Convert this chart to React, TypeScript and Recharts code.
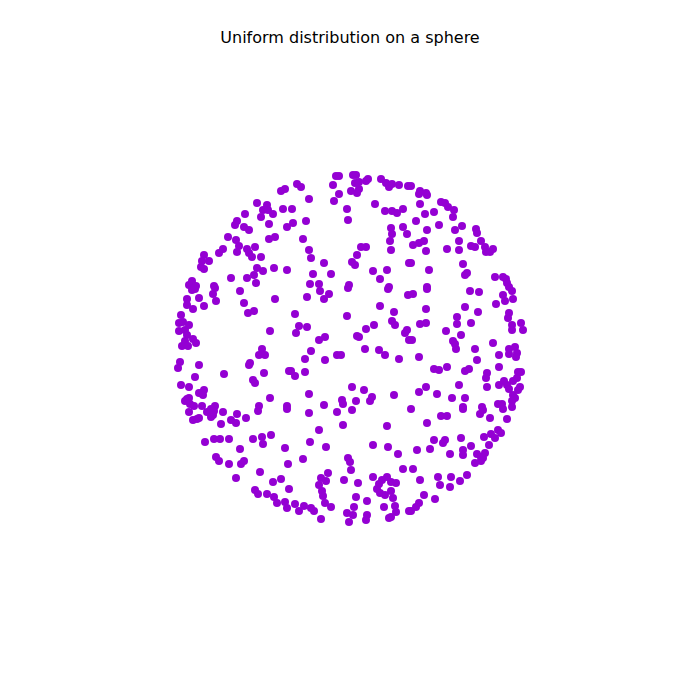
import React from "react";
import { ScatterChart, Scatter, XAxis, YAxis } from "recharts";

// point positions (projected sphere, pixel-like units)
const topLeft = [
  [281,191],[285,189],[257,203],[267,205],[263,210],[268,210],[273,214],[283,209],[245,214],[261,217],
  [237,221],[235,225],[269,224],[244,227],[249,230],[287,227],[228,237],[236,240],[269,239],[275,237],
  [239,246],[223,249],[219,253],[247,249],[255,247],[237,252],[249,253],[252,257],[261,257],[204,255],
  [209,261],[202,261],[201,267],[204,269],[257,268],[263,271],[274,268],[287,270],[254,275],[231,278],
  [247,278],[256,283],[192,281],[189,285],[196,286],[214,286],
];
const topMid = [
  [297,184],[301,187],[336,176],[339,176],[353,175],[356,175],[333,185],[355,183],[359,182],[368,179],
  [366,181],[381,179],[386,183],[389,187],[392,184],[399,185],[408,186],[351,191],[357,193],[359,189],
  [339,194],[309,199],[334,201],[375,204],[292,209],[347,209],[385,211],[392,211],[397,213],[403,209],
  [348,220],[306,221],[293,223],[391,228],[392,234],[403,227],[407,234],[390,241],[303,239],[361,247],
  [366,247],[391,250],[309,250],[357,255],[311,258],[352,262],[355,265],[324,263],[373,271],[387,270],
  [409,263],[313,274],[331,274],[380,279],[310,284],[319,284],[349,285],[389,287],
];
const topRight = [
  [411,186],[420,191],[419,194],[426,193],[427,195],[441,202],[445,203],[448,207],[454,210],[453,217],
  [420,204],[425,214],[434,212],[416,221],[439,225],[455,230],[462,226],[427,230],[476,229],[477,233],
  [481,241],[459,241],[424,241],[419,243],[413,245],[471,246],[475,247],[485,247],[486,252],[490,252],
  [493,249],[447,249],[459,250],[426,251],[463,264],[411,263],[429,270],[467,273],[465,275],[495,277],
  [503,277],[506,279],[507,283],[509,287],[427,287],
];
const midLeft = [
  [192,290],[195,289],[213,294],[215,288],[240,291],[187,299],[187,305],[199,298],[216,301],[244,303],
  [275,299],[193,309],[204,306],[248,313],[254,311],[181,315],[179,323],[183,322],[189,325],[179,331],
  [185,330],[187,335],[270,331],[193,339],[196,343],[185,341],[182,346],[188,346],[262,349],[259,355],
  [265,355],[180,362],[178,368],[199,365],[250,363],[249,365],[224,374],[264,373],[289,371],[195,377],
  [253,380],[255,383],[181,385],[189,387],[204,390],[199,393],[203,395],[270,398],[187,399],[189,398],
  [185,401],[190,404],[194,406],[202,406],[215,406],[259,406],[287,406],
];
const center = [
  [348,288],[307,297],[320,291],[329,294],[324,299],[388,289],[408,295],[295,314],[347,316],[380,306],
  [394,312],[392,321],[395,325],[299,326],[307,327],[296,333],[366,329],[374,325],[407,330],[405,333],
  [357,336],[359,337],[319,340],[325,337],[409,340],[365,349],[379,350],[385,355],[311,351],[337,355],
  [341,355],[305,359],[325,360],[399,359],[291,371],[295,376],[305,372],[352,387],[364,390],[309,394],
  [394,395],[342,400],[343,404],[356,401],[372,397],[370,401],[324,405],
];
const midRight = [
  [413,294],[427,289],[470,291],[479,292],[503,295],[505,301],[512,291],[513,299],[426,309],[465,307],
  [496,304],[478,312],[509,313],[508,318],[457,317],[457,324],[471,323],[420,324],[426,323],[512,325],
  [512,330],[521,323],[523,330],[446,331],[461,335],[453,341],[455,344],[456,349],[412,340],[493,343],
  [475,349],[509,349],[515,347],[517,353],[516,357],[509,354],[499,355],[419,357],[477,360],[447,367],
  [499,367],[434,369],[439,370],[465,371],[469,369],[487,373],[486,378],[518,372],[521,372],[513,381],
  [517,378],[504,381],[499,385],[507,385],[459,385],[487,387],[426,387],[520,387],[518,390],[509,389],
  [419,392],[437,394],[513,395],[515,398],[512,401],[452,398],[465,398],[502,404],[498,404],[463,407],
  [482,407],[512,407],
];
const bottomLeft = [
  [189,412],[193,420],[197,419],[199,418],[207,412],[211,409],[214,411],[213,415],[211,417],[223,412],
  [237,414],[221,424],[231,420],[236,423],[246,418],[258,411],[287,409],[205,442],[214,439],[220,439],
  [229,439],[253,439],[262,437],[271,435],[263,444],[240,449],[285,448],[216,457],[219,461],[229,464],
  [241,464],[244,461],[288,464],[260,472],[236,478],[273,482],[281,479],[255,490],[258,494],[289,489],
  [267,494],[274,497],[277,503],[285,502],[287,508],
];
const bottomMid = [
  [309,413],[337,412],[352,410],[343,425],[387,426],[319,430],[310,442],[326,447],[373,445],[388,447],
  [398,454],[303,459],[348,458],[350,462],[351,470],[403,469],[328,473],[373,477],[321,478],[326,481],
  [344,480],[387,477],[382,480],[379,484],[391,482],[396,483],[377,489],[319,485],[358,483],[322,491],
  [323,496],[380,493],[385,495],[391,491],[356,497],[393,498],[367,501],[325,503],[295,504],[304,506],
  [311,508],[314,511],[299,511],[331,507],[354,507],[384,507],[395,506],[396,512],[391,517],[389,518],
  [347,513],[353,515],[367,515],[366,520],[321,519],[349,522],[409,511],
];
const bottomRight = [
  [411,409],[463,409],[480,414],[483,410],[503,409],[441,416],[447,416],[490,418],[507,419],[427,423],
  [498,430],[501,433],[491,434],[495,438],[484,437],[461,438],[434,440],[443,443],[445,440],[489,445],
  [471,446],[463,450],[463,455],[417,450],[430,449],[450,454],[477,454],[485,453],[481,457],[481,461],
  [475,463],[483,458],[413,469],[467,475],[438,477],[451,477],[420,480],[460,481],[440,485],[450,487],
  [424,495],[435,499],[419,503],[416,507],[411,511],
];

const points = [
  ...topLeft, ...topMid, ...topRight,
  ...midLeft, ...center, ...midRight,
  ...bottomLeft, ...bottomMid, ...bottomRight,
].map(([x, y]) => ({ x, y }));

const color = "#9400d3";

const Dot = (props: any) => <circle cx={props.cx} cy={props.cy} r={4} fill={color} />;

export default function App() {
  return (
    <div style={{ position: "absolute", left: 0, top: 0, width: 700, height: 700, background: "#fff" }}>
      <div
        style={{
          position: "absolute",
          top: 28,
          width: 700,
          textAlign: "center",
          fontFamily: "DejaVu Sans",
          fontSize: 16,
          lineHeight: "19px",
          color: "#000",
        }}
      >
        Uniform distribution on a sphere
      </div>
      <ScatterChart width={700} height={700} margin={{ top: 0, right: 0, bottom: 0, left: 0 }}>
        <XAxis type="number" dataKey="x" domain={[0, 700]} hide />
        <YAxis type="number" dataKey="y" domain={[0, 700]} reversed hide />
        <Scatter data={points} shape={Dot} isAnimationActive={false} />
      </ScatterChart>
    </div>
  );
}
